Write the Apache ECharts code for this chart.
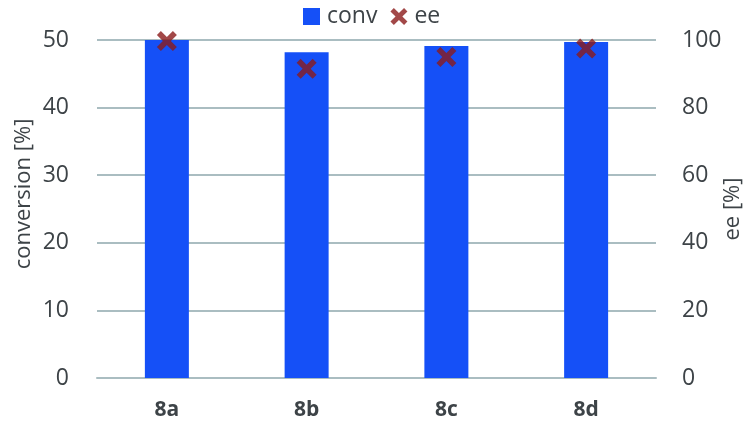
<!DOCTYPE html>
<html>
<head>
<meta charset="utf-8">
<script src="https://cdn.jsdelivr.net/npm/echarts@6/dist/echarts.min.js"></script>
<style>html,body{margin:0;padding:0;background:#fff}#c{width:751px;height:423px}</style>
</head>
<body>
<div id="c"></div>
<script>
var categories = ['8a', '8b', '8c', '8d'];
var convValues = [50, 48.2, 49.1, 49.7];
var eeValues = [99.7, 91.5, 95, 97.5];
var leftTicks = {min: 0, max: 50, interval: 10};
var rightTicks = {min: 0, max: 100, interval: 20};

var crossPath = 'path://M0,4 L4,0 L10,6 L16,0 L20,4 L14,10 L20,16 L16,20 L10,14 L4,20 L0,16 L6,10 Z';
var txt = '#3d4347';
var gridCol = '#aabdc1';
var font = 'Open Sans';

var chart = echarts.init(document.getElementById('c'));
chart.setOption({
  animation: false,
  textStyle: {fontFamily: font},
  legend: {
    top: 0, left: 298,
    itemWidth: 17, itemHeight: 17, itemGap: 13,
    textStyle: {fontSize: 23, color: txt, fontFamily: font, padding: [0, 0, 0, 2]},
    data: [
      {name: 'conv', icon: 'rect'},
      {name: 'ee', icon: crossPath}
    ]
  },
  grid: {left: 97, right: 95, top: 40, bottom: 45, containLabel: false, outerBoundsMode: 'none'},
  xAxis: {
    type: 'category', data: categories,
    axisLine: {show: true, lineStyle: {color: gridCol, width: 2}},
    axisTick: {show: false},
    axisLabel: {fontSize: 21, fontWeight: 'bold', color: txt, margin: 22, fontFamily: font}
  },
  yAxis: [
    {
      type: 'value', min: leftTicks.min, max: leftTicks.max, interval: leftTicks.interval,
      name: 'conversion [%]', nameLocation: 'middle', nameGap: 62, nameRotate: 90,
      nameMoveOverlap: false,
      nameTextStyle: {fontSize: 22, color: txt, fontFamily: font, padding: [0, 0, 0, 30]},
      axisLine: {show: false}, axisTick: {show: false},
      axisLabel: {fontSize: 23, color: txt, margin: 28, fontFamily: font},
      splitLine: {lineStyle: {color: gridCol, width: 2}}
    },
    {
      type: 'value', min: rightTicks.min, max: rightTicks.max, interval: rightTicks.interval,
      name: 'ee [%]', nameLocation: 'middle', nameGap: 66, nameRotate: 90,
      nameMoveOverlap: false,
      nameTextStyle: {fontSize: 22, color: txt, fontFamily: font},
      axisLine: {show: false}, axisTick: {show: false},
      axisLabel: {fontSize: 23, color: txt, margin: 26, fontFamily: font},
      splitLine: {show: false}
    }
  ],
  series: [
    {
      name: 'conv', type: 'bar', data: convValues, barWidth: 44,
      itemStyle: {color: '#1550f7'}
    },
    {
      name: 'ee', type: 'scatter', yAxisIndex: 1, data: eeValues,
      symbol: crossPath, symbolSize: 20,
      itemStyle: {color: '#8b1a1a'}, z: 5
    }
  ]
});
</script>
</body>
</html>
